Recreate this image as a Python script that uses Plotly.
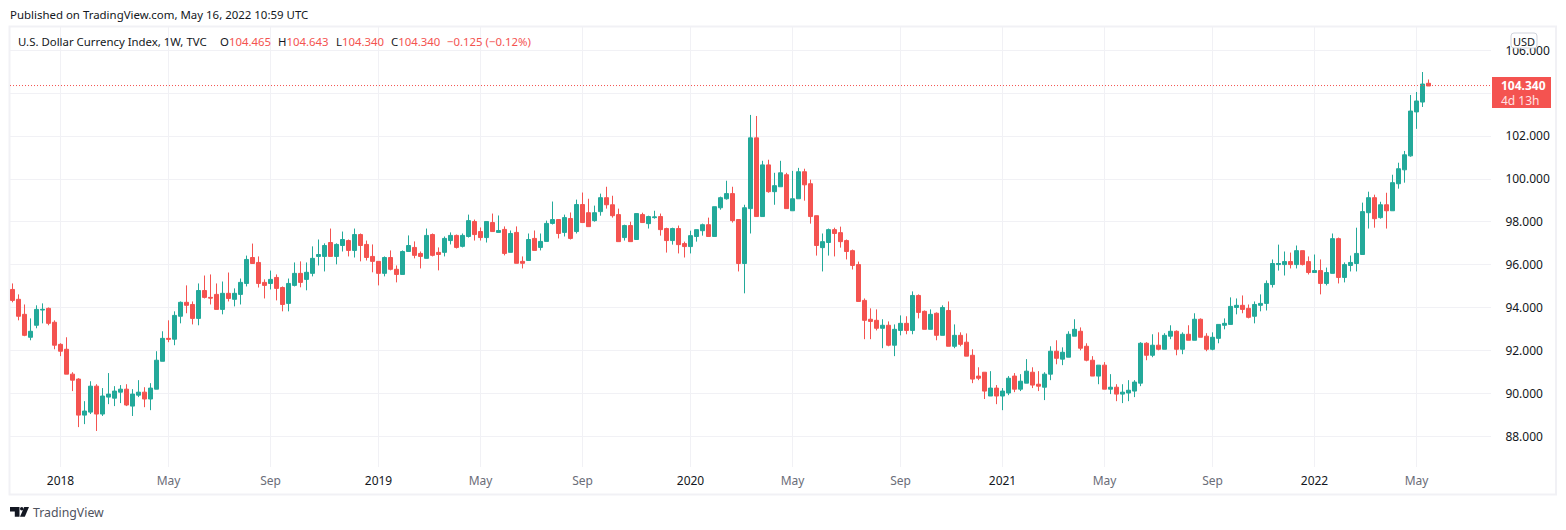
import pandas as pd
import plotly.graph_objects as go

first_week = "2017-11-06"
bar_count = 237
price_line_level = 104.36

opens = [
94.85,94.39,93.69,92.62,93.18,93.89,93.97,93.32,92.29,92.06,
90.90,90.67,88.99,89.13,90.34,89.04,89.83,89.78,90.06,90.20,
89.41,89.92,90.06,89.74,90.20,91.50,92.57,92.53,93.60,94.25,
94.15,93.50,94.80,94.48,94.62,93.92,94.67,94.39,94.62,95.13,
96.34,96.11,95.18,95.13,95.41,94.94,94.20,95.04,95.60,95.32,
95.60,96.39,96.39,97.04,96.39,96.90,97.13,96.67,97.41,96.95,
96.39,96.16,95.60,96.34,95.79,95.55,96.62,96.81,96.53,96.30,
97.41,96.58,96.58,97.13,97.37,96.86,97.32,98.02,97.55,97.27,
97.97,97.51,97.65,96.58,97.51,96.16,96.20,97.23,96.81,97.09,
97.93,98.11,97.51,98.16,97.55,98.81,98.43,98.06,98.48,99.13,
98.80,98.34,97.27,97.83,97.18,98.34,97.92,98.20,98.25,97.69,
97.13,97.69,96.99,96.85,97.32,97.59,97.87,97.32,98.66,99.08,
99.32,98.11,96.06,98.62,101.92,98.25,100.66,99.41,99.64,100.20,
98.52,99.08,100.34,99.78,98.29,96.80,97.04,97.64,97.50,97.13,
96.66,96.01,94.34,93.46,93.41,93.04,93.18,92.25,92.94,93.27,
92.94,94.57,93.83,92.99,93.74,92.71,93.87,92.20,92.71,92.39,
91.78,90.81,90.99,89.88,90.25,89.88,90.02,90.81,90.20,90.48,
90.99,90.43,90.29,90.90,91.97,91.60,91.69,92.67,92.90,92.20,
91.55,90.81,91.32,90.20,90.29,89.97,90.02,90.11,90.48,92.34,
91.78,92.25,92.06,92.67,92.90,92.06,92.76,92.48,93.46,92.67,
92.06,92.57,93.18,93.22,94.01,94.11,93.97,93.60,94.11,94.20,
95.08,96.01,96.01,96.15,96.01,96.66,96.15,95.64,95.73,95.13,
95.60,97.22,95.41,95.97,96.06,96.48,98.43,99.13,98.20,98.80,
98.52,99.78,100.43,101.08,103.13,103.59,104.465]

highs = [
95.13,94.62,94.15,93.50,94.11,94.20,94.01,93.41,92.34,92.62,
90.99,90.71,89.64,90.57,90.43,90.25,90.95,90.34,90.39,90.43,
90.20,90.62,90.29,90.48,91.97,92.90,93.41,93.83,94.29,95.04,
94.29,95.13,95.50,95.55,95.13,95.22,95.64,94.90,95.36,96.43,
96.99,96.39,95.32,95.73,95.55,94.99,95.36,96.11,96.16,96.11,
96.86,97.18,97.00,97.69,97.00,97.55,97.18,97.69,97.46,97.13,
96.95,96.16,96.39,96.67,95.97,96.67,97.37,97.09,96.62,97.69,
97.46,96.81,97.32,97.51,97.41,97.46,98.34,98.11,97.74,98.02,
98.39,98.30,97.79,97.60,97.79,96.39,97.46,97.60,97.46,98.06,
98.95,98.11,98.34,98.44,99.04,99.37,99.08,98.76,99.32,99.64,
99.22,98.62,97.87,98.01,98.39,98.43,98.29,98.52,98.39,97.73,
97.73,97.83,97.08,97.59,97.64,97.92,98.20,98.71,99.18,99.92,
99.64,98.11,98.80,102.99,102.94,100.85,100.90,100.29,100.85,100.29,
100.38,100.52,100.48,99.97,98.29,97.46,97.69,97.73,97.78,97.18,
96.71,96.15,94.43,93.97,93.92,93.46,93.36,93.22,93.64,93.60,
94.76,94.62,93.87,93.92,93.78,94.11,94.29,93.22,92.85,92.80,
92.06,91.22,90.99,91.04,90.39,90.25,90.81,90.95,90.90,91.60,
91.22,91.04,90.99,92.20,92.48,92.15,92.90,93.46,93.08,92.34,
91.74,91.32,91.46,90.90,90.43,90.43,90.62,90.62,92.39,92.39,
92.76,92.85,92.81,93.18,92.94,92.85,93.18,93.74,93.50,92.81,
92.85,93.22,93.50,94.48,94.43,94.57,94.15,94.29,94.62,95.27,
96.25,96.94,96.62,96.57,96.90,96.66,96.39,96.48,96.25,95.87,
97.46,97.27,96.11,96.43,97.73,98.90,99.41,99.27,98.94,99.36,
100.20,100.76,101.31,103.92,104.06,104.99,104.643]

lows = [
94.25,93.41,92.67,92.48,93.04,93.27,93.18,92.06,91.74,90.90,
90.11,88.43,88.57,89.04,88.25,88.95,89.50,89.41,89.55,89.41,
88.95,89.83,89.36,89.22,90.20,91.50,92.39,92.25,93.27,93.74,
93.22,93.18,94.43,94.15,93.92,93.69,94.29,94.06,94.15,94.99,
96.06,94.94,94.43,94.85,94.34,93.83,93.83,94.99,94.95,94.81,
95.46,95.97,95.69,96.39,96.02,96.62,96.39,96.34,96.16,96.20,
95.65,95.04,95.46,95.74,95.18,95.55,96.62,96.30,95.83,96.30,
96.39,95.74,96.39,96.95,96.76,96.81,97.27,97.13,97.13,97.04,
97.55,97.51,96.44,96.58,96.07,95.83,96.20,96.67,96.67,97.09,
97.88,97.23,97.32,97.18,97.46,97.97,97.78,98.01,98.29,98.62,
98.20,97.08,97.13,97.08,97.18,97.97,97.69,98.15,97.36,96.57,
96.94,96.53,96.34,96.53,97.08,97.36,97.32,97.32,98.57,99.04,
97.97,95.69,94.67,97.46,98.25,98.25,99.36,98.80,99.64,98.62,
98.52,99.08,98.99,97.92,96.43,95.69,96.43,96.39,96.80,96.25,
95.78,94.29,92.53,92.53,92.94,92.11,92.20,91.74,92.71,92.76,
92.76,93.50,92.99,92.99,92.48,92.71,92.20,92.11,92.20,91.74,
90.48,90.62,89.74,89.88,89.50,89.22,89.92,90.06,90.11,90.48,
90.25,90.11,89.69,90.62,91.36,91.32,91.69,92.67,92.01,91.50,
90.81,90.43,90.20,89.97,89.64,89.55,89.64,89.83,90.34,91.55,
91.69,92.01,92.06,92.53,91.78,91.83,92.48,92.48,92.62,91.97,
92.01,92.34,92.99,93.22,93.69,93.74,93.50,93.27,93.83,93.87,
94.94,95.73,95.50,95.83,95.83,95.97,95.55,95.64,94.62,95.04,
95.60,95.13,95.18,95.69,95.69,96.48,97.69,97.73,98.15,97.69,
98.52,99.55,99.83,101.04,102.34,103.36,104.34]

closes = [
94.34,93.60,92.71,92.90,93.92,93.92,93.27,92.25,91.97,90.90,
90.62,88.99,89.18,90.34,89.04,89.88,89.97,90.11,90.20,89.46,
89.97,90.06,89.74,90.25,91.55,92.57,92.53,93.64,94.25,94.11,
93.50,94.80,94.48,94.45,93.92,94.67,94.43,94.67,95.18,96.25,
96.06,95.13,95.04,95.32,94.90,94.15,95.13,95.60,95.18,95.65,
96.30,96.48,96.90,96.39,96.95,97.18,96.67,97.41,96.90,96.34,
96.16,95.60,96.34,95.79,95.55,96.62,96.90,96.44,96.39,97.37,
96.44,96.48,97.23,97.37,96.81,97.37,98.06,97.41,97.27,98.02,
97.55,97.60,96.53,97.46,96.07,96.07,97.18,96.67,97.09,97.93,
98.11,97.46,98.20,97.23,98.81,97.97,97.78,98.43,99.13,98.80,
98.29,97.08,97.83,97.08,98.39,97.97,98.25,98.23,97.64,97.13,
97.69,96.94,96.85,97.36,97.64,97.87,97.32,98.71,99.13,99.32,
98.06,96.06,98.66,101.92,98.25,100.66,99.41,99.69,100.29,98.62,
99.08,100.34,99.73,98.25,96.90,97.08,97.64,97.46,97.08,96.62,
95.97,94.29,93.41,93.36,93.04,93.18,92.25,92.99,93.27,92.94,
94.57,93.78,92.99,93.69,92.71,94.01,92.20,92.71,92.29,91.74,
90.67,90.71,90.11,90.25,89.88,90.11,90.71,90.20,90.57,91.04,
90.39,90.34,90.90,91.97,91.64,91.92,92.76,92.99,92.11,91.55,
90.81,91.32,90.20,90.29,89.97,90.06,90.15,90.53,92.34,91.78,
92.25,92.06,92.71,92.90,92.06,92.76,92.48,93.46,92.62,92.06,
92.62,93.22,93.27,94.06,94.11,93.92,93.55,94.15,94.20,95.13,
96.06,96.06,96.15,96.01,96.66,96.01,95.64,95.73,95.13,95.64,
97.22,95.41,96.01,96.11,96.53,98.48,99.13,98.15,98.80,98.52,
99.83,100.48,101.13,103.17,103.64,104.43,104.34]

x_tick_dates = ["2018-01-01","2018-05-07","2018-09-03","2019-01-07","2019-05-06","2019-09-02",
                "2020-01-06","2020-05-04","2020-09-07","2021-01-04","2021-05-03","2021-09-06",
                "2022-01-03","2022-05-02"]
x_tick_labels = ["2018","May","Sep","2019","May","Sep","2020","May","Sep","2021","May","Sep","2022","May"]
y_ticks = [88,90,92,94,96,98,100,102,104,106]

UP = "#23A99A"
DOWN = "#F45350"
GRID = "#F1F1F5"
INK = "#131722"
MUTED = "#6A6D78"
FONT = "Noto Sans"

W, H = 1566, 530
L, R, T, B = 10, 1491, 27, 467
px = lambda x: (x - L) / (R - L)
py = lambda y: (B - y) / (B - T)

dates = pd.date_range(first_week, periods=bar_count, freq="7D")
week = pd.Timedelta(days=7)
x_range = [dates[0] - week * ((12.5 - L) / 6), dates[-1] + week * ((R - 1428.5) / 6)]
y_range = [86.57, 107.09]

fig = go.Figure(go.Candlestick(
    x=dates, open=opens, high=highs, low=lows, close=closes,
    increasing=dict(line=dict(color=UP, width=1), fillcolor=UP),
    decreasing=dict(line=dict(color=DOWN, width=1), fillcolor=DOWN),
    whiskerwidth=0, hoverinfo="skip", showlegend=False))


def note(x, y, text, size=12, color=INK, anchor="left"):
    fig.add_annotation(xref="paper", yref="paper", x=px(x), y=py(y), text=text, showarrow=False,
                       xanchor=anchor, yanchor="middle", borderpad=0, borderwidth=0,
                       font=dict(family=FONT, size=size, color=color))


def red(s):
    return f'<span style="color:{DOWN}">{s}</span>'


shapes = [
    # outer frame
    dict(type="rect", xref="paper", yref="paper", x0=px(9.5), x1=px(1556), y0=py(26.5), y1=py(494.5),
         line=dict(color=GRID, width=2), layer="below"),
    # last price line
    dict(type="line", xref="paper", yref="y", x0=0, x1=1, y0=price_line_level, y1=price_line_level,
         line=dict(color=DOWN, width=1, dash="1px,2px"), layer="above"),
    # last price tag
    dict(type="rect", xref="paper", yref="paper", x0=px(1492), x1=px(1551), y0=py(77), y1=py(108),
         fillcolor=DOWN, line=dict(width=0), layer="above"),
    # currency badge
    dict(type="path", xref="paper", yref="paper", layer="above", fillcolor="white",
         line=dict(color="#D1D4DC", width=1),
         path=(f"M{px(1514)},{py(33)} L{px(1534)},{py(33)} Q{px(1537)},{py(33)} {px(1537)},{py(36)} "
               f"L{px(1537)},{py(45)} Q{px(1537)},{py(48)} {px(1534)},{py(48)} L{px(1514)},{py(48)} "
               f"Q{px(1511)},{py(48)} {px(1511)},{py(45)} L{px(1511)},{py(36)} Q{px(1511)},{py(33)} {px(1514)},{py(33)} Z")),
    # TradingView logo
    dict(type="path", xref="paper", yref="paper", fillcolor="#131722", line=dict(width=0), layer="above",
         path=(f"M{px(10)},{py(507)} L{px(19.5)},{py(507)} L{px(19.5)},{py(516.8)} L{px(14.8)},{py(516.8)} "
               f"L{px(14.8)},{py(511.5)} L{px(10)},{py(511.5)} Z")),
    dict(type="circle", xref="paper", yref="paper", fillcolor="#131722", line=dict(width=0), layer="above",
         x0=px(20), x1=px(23.5), y0=py(507), y1=py(510.5)),
    dict(type="path", xref="paper", yref="paper", fillcolor="#131722", line=dict(width=0), layer="above",
         path=(f"M{px(24.2)},{py(507)} L{px(29)},{py(507)} L{px(24.8)},{py(516.8)} L{px(20)},{py(516.8)} Z")),
]

ticktext = [t if t.isdigit() else f'<span style="color:{MUTED}">{t}</span>' for t in x_tick_labels]

fig.update_layout(
    width=W, height=H, autosize=False,
    margin=dict(l=L, r=W - R, t=T, b=H - B, pad=0),
    paper_bgcolor="white", plot_bgcolor="white",
    boxgap=1 / 3, boxgroupgap=0, showlegend=False, hovermode=False,
    font=dict(family=FONT, size=12, color=INK),
    shapes=shapes,
    xaxis=dict(type="date", range=x_range, rangeslider=dict(visible=False),
               tickmode="array", tickvals=x_tick_dates, ticktext=ticktext, tickangle=0,
               showgrid=True, gridcolor=GRID, gridwidth=1, zeroline=False, showline=False,
               ticks="outside", ticklen=3, tickcolor="rgba(0,0,0,0)",
               tickfont=dict(family=FONT, size=12, color=INK)),
    yaxis=dict(side="right", range=y_range, tickmode="array", tickvals=y_ticks, tickformat=".3f",
               showgrid=True, gridcolor=GRID, gridwidth=1, zeroline=False, showline=False,
               ticks="outside", ticklen=11, tickcolor="rgba(0,0,0,0)",
               tickfont=dict(family=FONT, size=12, color=INK)),
)

note(10, 14, "Published on TradingView.com, May 16, 2022 10:59 UTC", size=11.45)
note(18, 42, "U.S. Dollar Currency Index, 1W, TVC", size=11.4)
note(220, 42, "O" + red("104.465"), size=11.4)
note(278, 42, "H" + red("104.643"), size=11.4)
note(336, 42, "L" + red("104.340"), size=11.4)
note(391, 42, "C" + red("104.340"), size=11.4)
note(447, 42, red("\u22120.125 (\u22120.12%)"), size=11.4)
note(1524, 41, "USD", size=11, anchor="center")
note(1523, 86, "<b>104.340</b>", size=12, color="white", anchor="center")
note(1520, 100, "4d 13h", size=12, color="#FFE1E3", anchor="center")
note(33, 512, "TradingView", size=12.3, color="#50535E")

fig.write_html("out.html", config={"displayModeBar": False},
               post_script="document.body.style.margin='0';document.body.style.overflow='hidden';")
